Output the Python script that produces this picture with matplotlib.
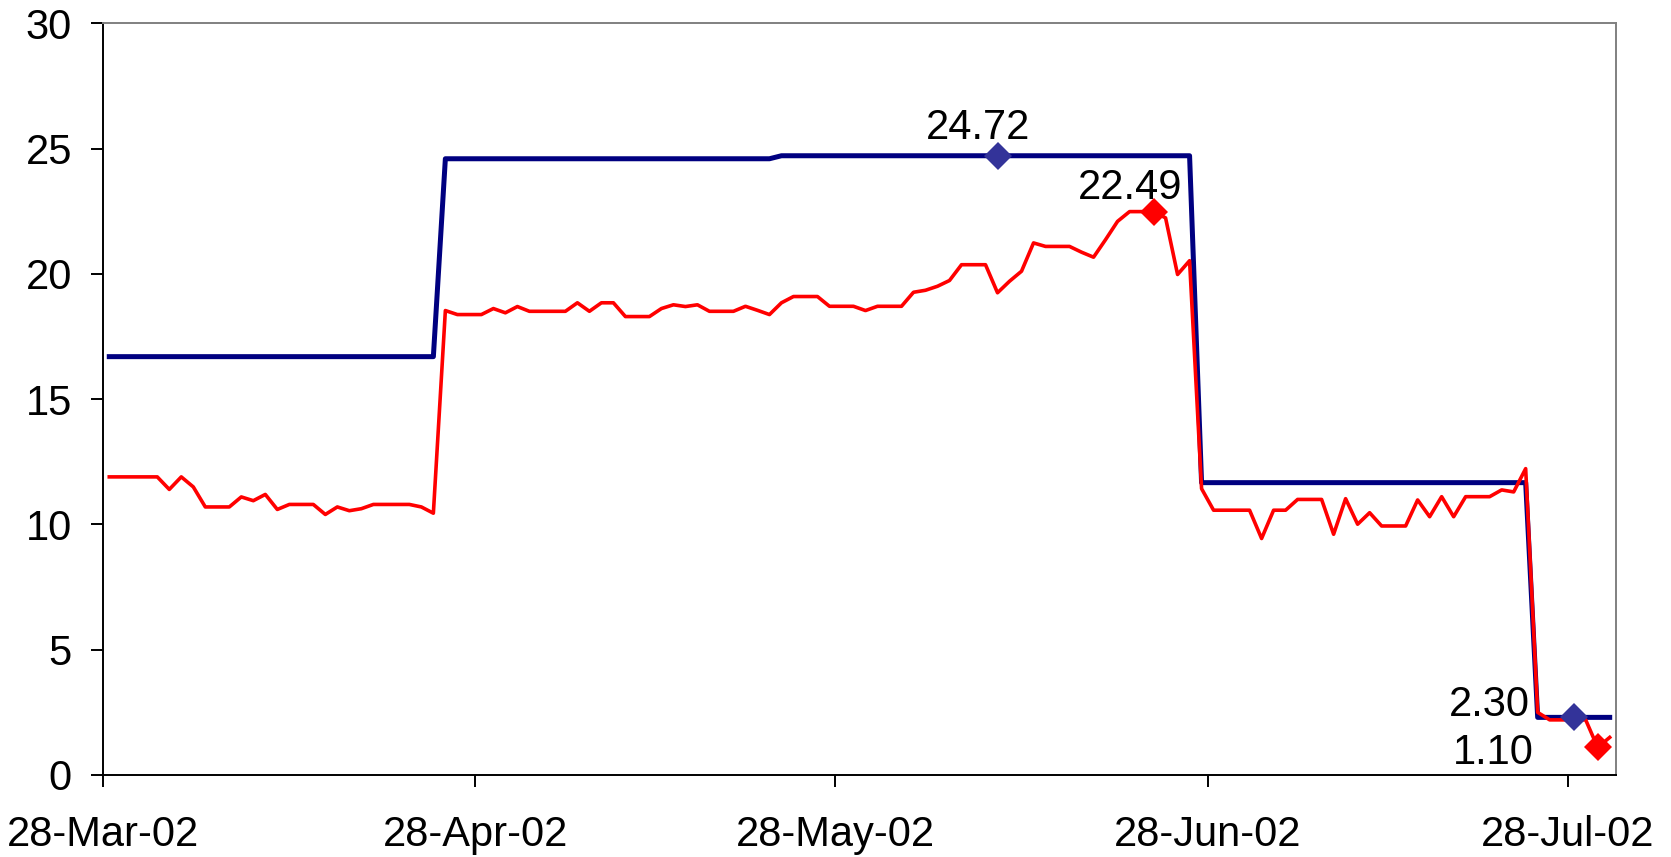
import numpy as np
import pandas as pd
import matplotlib
matplotlib.use("Agg")
import matplotlib.pyplot as plt
import matplotlib.dates as mdates

plt.rcParams['font.family'] = ['Liberation Sans', 'DejaVu Sans']

# daily values from 28-Mar-02, one row per week
blue = [16.7, 16.7, 16.7, 16.7, 16.7, 16.7, 16.7,
        16.7, 16.7, 16.7, 16.7, 16.7, 16.7, 16.7,
        16.7, 16.7, 16.7, 16.7, 16.7, 16.7, 16.7,
        16.7, 16.7, 16.7, 16.7, 16.7, 16.7, 16.7,
        24.6, 24.6, 24.6, 24.6, 24.6, 24.6, 24.6,
        24.6, 24.6, 24.6, 24.6, 24.6, 24.6, 24.6,
        24.6, 24.6, 24.6, 24.6, 24.6, 24.6, 24.6,
        24.6, 24.6, 24.6, 24.6, 24.6, 24.6, 24.6,
        24.72, 24.72, 24.72, 24.72, 24.72, 24.72, 24.72,
        24.72, 24.72, 24.72, 24.72, 24.72, 24.72, 24.72,
        24.72, 24.72, 24.72, 24.72, 24.72, 24.72, 24.72,
        24.72, 24.72, 24.72, 24.72, 24.72, 24.72, 24.72,
        24.72, 24.72, 24.72, 24.72, 24.72, 24.72, 24.72,
        11.67, 11.67, 11.67, 11.67, 11.67, 11.67, 11.67,
        11.67, 11.67, 11.67, 11.67, 11.67, 11.67, 11.67,
        11.67, 11.67, 11.67, 11.67, 11.67, 11.67, 11.67,
        11.67, 11.67, 11.67, 11.67, 11.67, 11.67, 11.67,
        2.30, 2.30, 2.30, 2.30, 2.30, 2.30, 2.30]

red = [11.9, 11.9, 11.9, 11.9, 11.9, 11.4, 11.9,
       11.5, 10.7, 10.7, 10.7, 11.1, 10.95, 11.2,
       10.6, 10.8, 10.8, 10.8, 10.4, 10.7, 10.55,
       10.63, 10.8, 10.8, 10.8, 10.8, 10.7, 10.45,
       18.54, 18.38, 18.38, 18.38, 18.62, 18.45, 18.70,
       18.51, 18.51, 18.51, 18.51, 18.85, 18.51, 18.85,
       18.85, 18.30, 18.30, 18.30, 18.62, 18.77, 18.70,
       18.77, 18.51, 18.51, 18.51, 18.71, 18.55, 18.38,
       18.85, 19.10, 19.10, 19.10, 18.71, 18.71, 18.71,
       18.54, 18.71, 18.71, 18.71, 19.27, 19.35, 19.51,
       19.74, 20.37, 20.37, 20.37, 19.25, 19.71, 20.11,
       21.24, 21.10, 21.10, 21.10, 20.87, 20.67, 21.37,
       22.10, 22.49, 22.49, 22.49, 22.24, 19.98, 20.53,
       11.43, 10.57, 10.57, 10.57, 10.57, 9.44, 10.57,
       10.57, 11.0, 11.0, 11.0, 9.61, 11.03, 10.01,
       10.47, 9.94, 9.94, 9.94, 10.98, 10.31, 11.11,
       10.31, 11.11, 11.11, 11.11, 11.38, 11.30, 12.23,
       2.5, 2.2, 2.2, 2.2, 2.2, 1.10, 1.5]

dates = pd.date_range("2002-03-28", periods=len(red), freq="D")

# labelled points
blue_pts = ["2002-06-10", "2002-07-28"]
blue_vals = [24.72, 2.30]
red_pts = ["2002-06-23", "2002-07-30"]
red_vals = [22.49, 1.10]

tick_dates = ["2002-03-28", "2002-04-28", "2002-05-28", "2002-06-28", "2002-07-28"]

# Excel draws daily points between tick marks
half = pd.Timedelta(hours=12)

fig = plt.figure(figsize=(16.71, 8.57), dpi=100)
ax = fig.add_axes([0.0618, 0.0957, 0.9051, 0.8769])

ax.plot(dates + half, blue, color='#000080', lw=3.6, zorder=3)
ax.plot(dates + half, red, color='#ff0000', lw=2.6, zorder=4)

bx = pd.to_datetime(blue_pts) + half
rx = pd.to_datetime(red_pts) + half
ax.plot(bx, blue_vals, 'D', color='#333399', ms=14, mew=0, zorder=5, clip_on=False)
ax.plot(rx, red_vals, 'D', color='#ff0000', ms=14, mew=0, zorder=5, clip_on=False)

fs = 30
ax.annotate(f"{blue_vals[0]:.2f}", (bx[0], blue_vals[0]), xytext=(-19, 17),
            textcoords='offset pixels', ha='center', va='baseline', fontsize=fs)
ax.annotate(f"{red_vals[0]:.2f}", (rx[0], red_vals[0]), xytext=(-23, 13),
            textcoords='offset pixels', ha='center', va='baseline', fontsize=fs)
ax.annotate(f"{blue_vals[1]:.2f}", (bx[1], blue_vals[1]), xytext=(-44, 1),
            textcoords='offset pixels', ha='right', va='baseline', fontsize=fs)
ax.annotate(f"{red_vals[1]:.2f}", (rx[1], red_vals[1]), xytext=(-64, -17),
            textcoords='offset pixels', ha='right', va='baseline', fontsize=fs)

ax.set_xlim(pd.Timestamp("2002-03-28"), pd.Timestamp("2002-08-01"))
ax.set_ylim(0, 30)
ax.set_yticks(range(0, 31, 5))
ax.set_xticks(pd.to_datetime(tick_dates))
ax.xaxis.set_major_formatter(mdates.DateFormatter('%d-%b-%y'))

ax.tick_params(axis='both', direction='out', length=8.6, width=1.4, labelsize=fs, colors='black')
ax.tick_params(axis='y', pad=14)
ax.tick_params(axis='x', pad=20)

for side in ['left', 'bottom']:
    ax.spines[side].set_color('black')
    ax.spines[side].set_linewidth(1.4)
for side in ['top', 'right']:
    ax.spines[side].set_color('#808080')
    ax.spines[side].set_linewidth(1.4)

fig.savefig('out.png', dpi=100)
